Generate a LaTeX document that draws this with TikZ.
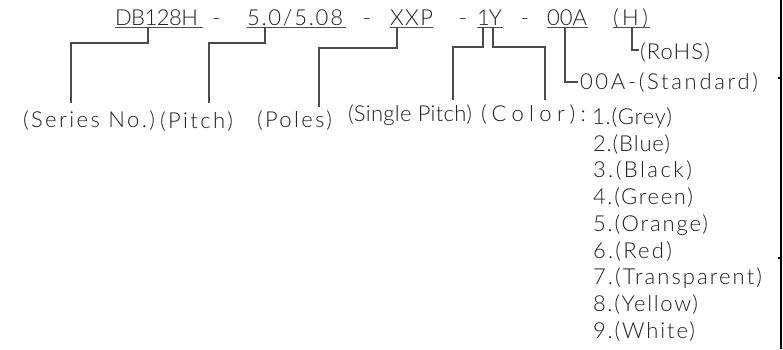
\documentclass[tikz,border=0pt]{standalone}
\usepackage{fontspec}
\setmainfont{Lato Light}
\ExplSyntaxOn
\fp_new:N \l_fw_ls_fp
\box_new:N \l_fw_box
\NewDocumentCommand{\fw}{mm}{
  \hbox_set:Nn \l_fw_box {#2}
  \fp_set:Nn \l_fw_ls_fp { ( #1 - \dim_to_fp:n {\box_wd:N \l_fw_box} ) / ( \str_count_ignore_spaces:n {#2} - 1 ) / 22 * 100 }
  \use:x { \exp_not:N \addfontfeature{LetterSpace=\fp_eval:n {round(\l_fw_ls_fp,3)}} } #2
}
\ExplSyntaxOff
\definecolor{ink}{RGB}{30,30,30}
\definecolor{lead}{RGB}{75,75,75}
\begin{document}
\begin{tikzpicture}[x=1pt,y=-1pt,
  txt/.style={inner sep=0pt,outer sep=0pt,anchor=base west,text=ink,font=\fontsize{22}{22}\selectfont},
  hyph/.style={inner sep=0pt,outer sep=0pt,anchor=base,text=ink,font=\fontsize{22}{22}\selectfont},
  leader/.style={draw=lead,line width=1.2pt},
  uline/.style={draw=lead,line width=1.1pt},
  frame/.style={draw=black,line width=2pt}]
\useasboundingbox (0,0) rectangle (783,349);
% top code row
\node[txt]  (db)  at (115,25) {\fw{83}{DB128H}};
\node[hyph] (d1)  at (216.5,25) {-};
\node[txt]  (pt)  at (247,25) {\fw{96}{5.0/5.08}};
\node[hyph] (d2)  at (367,25) {-};
\node[txt]  (xx)  at (390,25) {\fw{43}{XXP}};
\node[hyph] (d3)  at (463,25) {-};
\node[txt]  (oy)  at (477,25) {\fw{25}{1Y}};
\node[hyph] (d4)  at (525,25) {-};
\node[txt]  (oa)  at (547,25) {\fw{40}{00A}};
\node[txt]  (hh)  at (613,25) {\fw{35}{(H)}};
% underlines
\coordinate (u1a) at (115,27.5); \coordinate (u1b) at (203,27.5);
\coordinate (u2a) at (247,27.5); \coordinate (u2b) at (346,27.5);
\coordinate (u3a) at (390,27.5); \coordinate (u3b) at (433,27.5);
\coordinate (u4a) at (477,27.5); \coordinate (u4b) at (503,27.5);
\coordinate (u5a) at (547,27.5); \coordinate (u5b) at (588,27.5);
\coordinate (u6a) at (613,27.5); \coordinate (u6b) at (650,27.5);
\foreach \i in {1,...,6} {\draw[uline] (u\i a) -- (u\i b);}
% labels
\node[txt] (series) at (23,127)  {\fw{132}{(Series No.)}};
\node[txt] (pitch)  at (160,128) {\fw{73}{(Pitch)}};
\node[txt] (poles)  at (257,127) {\fw{75}{(Poles)}};
\node[txt] (single) at (348,121) {\fw{124}{(Single Pitch)}};
\node[txt] (color)  at (481,121) {\fw{105}{(Color):}};
\node[txt] (rohs)   at (640,59)  {\fw{70}{(RoHS)}};
\node[txt] (std)    at (580,89)  {\fw{178}{00A-(Standard)}};
% colour list
\node[txt] (c1) at (592,124.5) {\fw{80}{1.(Grey)}};
\node[txt] (c2) at (593,151.2) {\fw{77}{2.(Blue)}};
\node[txt] (c3) at (593,177.9) {\fw{99}{3.(Black)}};
\node[txt] (c4) at (593,204.6) {\fw{100}{4.(Green)}};
\node[txt] (c5) at (593,231.3) {\fw{115}{5.(Orange)}};
\node[txt] (c6) at (593,258.0) {\fw{79}{6.(Red)}};
\node[txt] (c7) at (593,284.7) {\fw{169}{7.(Transparent)}};
\node[txt] (c8) at (593,311.4) {\fw{105}{8.(Yellow)}};
\node[txt] (c9) at (593,338.1) {\fw{102}{9.(White)}};
% leader start points and ends
\coordinate (sA) at (148,27.5); \coordinate (eA) at (71,103);
\coordinate (sB) at (265,27.5); \coordinate (eB) at (209,103);
\coordinate (sC) at (397,27.5); \coordinate (eC) at (319,107);
\coordinate (sD) at (483,27.5); \coordinate (eD) at (453,100);
\coordinate (sE) at (493,27.5); \coordinate (eE) at (545,100);
\coordinate (sF) at (565,27.5); \coordinate (eF) at (578,82);
\coordinate (sG) at (632,27.5); \coordinate (eG) at (639,50);
\draw[leader] (sA) -- (sA |- 0,43) -| (eA);
\draw[leader] (sB) -- (sB |- 0,43) -| (eB);
\draw[leader] (sC) -- (sC |- 0,48) -| (eC);
\draw[leader] (sD) -- (sD |- 0,47) -| (eD);
\draw[leader] (sE) -- (sE |- 0,47) -| (eE);
\draw[leader] (sF) |- (eF);
\draw[leader] (sG) |- (eG);
% right frame line with ticks
\coordinate (ft) at (781,0); \coordinate (fb) at (781,349);
\draw[frame] (ft) -- (fb);
\draw[frame] (778,78) -- (781,78);
\draw[frame] (778,258) -- (781,258);
\end{tikzpicture}
\end{document}
